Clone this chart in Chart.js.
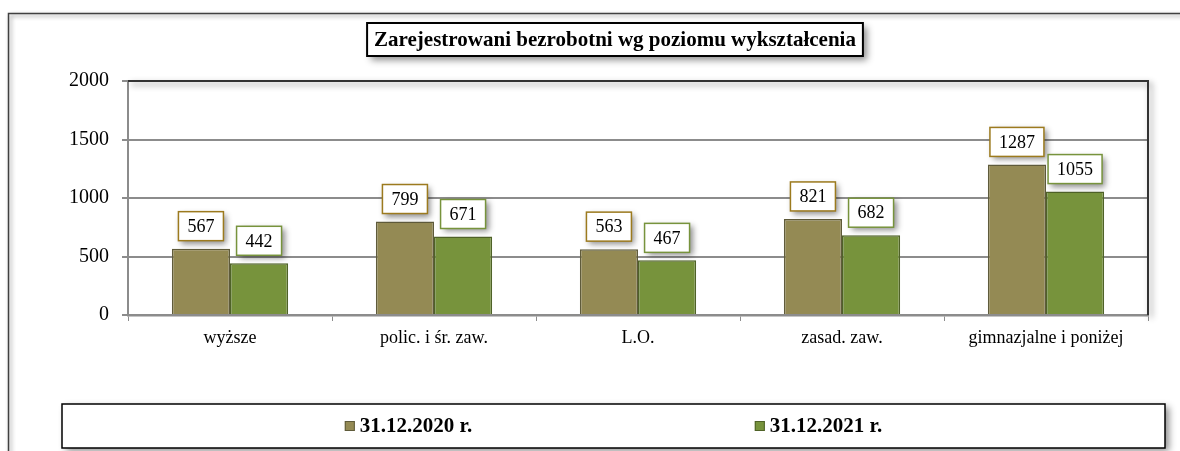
<!DOCTYPE html>
<html lang="pl">
<head>
<meta charset="utf-8">
<title>Zarejestrowani bezrobotni wg poziomu wykształcenia</title>
<script src="https://cdn.jsdelivr.net/npm/chart.js@4.4.1/dist/chart.umd.min.js"></script>
<style>
    html, body { margin: 0; padding: 0; background: #ffffff; }
    #wrap { width: 1180px; height: 451px; }
</style>
</head>
<body>
<div id="wrap"><canvas id="bezrobotniChart" width="1180" height="451"></canvas></div>
<script>
// Dane
const tytul = 'Zarejestrowani bezrobotni wg poziomu wykształcenia';
const kategorie = ['wyższe', 'polic. i śr. zaw.', 'L.O.', 'zasad. zaw.', 'gimnazjalne i poniżej'];
const serie = ['31.12.2020 r.', '31.12.2021 r.'];
const wartosci2020 = [567, 799, 563, 821, 1287];
const wartosci2021 = [442, 671, 467, 682, 1055];
const osY = { min: 0, max: 2000, krok: 500 };

// Kolory
const kolory = {
    braz: '#948A54',
    brazRamka: '#5F5B3B',
    brazEtykieta: '#9C7A1E',
    zielony: '#77933C',
    zielonyRamka: '#4F6228',
    zielonyEtykieta: '#77933C',
    siatka: '#8C8C8C',
    ramka: '#333333',
};

const czcionka = '"Liberation Serif", "Times New Roman", serif';

function cien(ctx, blur, dx, dy) {
    ctx.shadowColor = 'rgba(0,0,0,0.45)';
    ctx.shadowBlur = blur;
    ctx.shadowOffsetX = dx;
    ctx.shadowOffsetY = dy;
}

// Ramka zewnętrzna, tytuł, obramowanie obszaru wykresu
const ozdobyPlugin = {
    id: 'ozdoby',
    beforeDraw(chart) {
        const ctx = chart.ctx;
        ctx.save();
        cien(ctx, 4, 2, 2);
        ctx.strokeStyle = '#404040';
        ctx.lineWidth = 1.5;
        ctx.beginPath();
        ctx.moveTo(8.5, 460);
        ctx.lineTo(8.5, 13.5);
        ctx.lineTo(1190, 13.5);
        ctx.stroke();
        ctx.restore();
    },
    afterDraw(chart) {
        const ctx = chart.ctx;
        const a = chart.chartArea;

        // obramowanie góra / prawo
        ctx.save();
        cien(ctx, 6, 3, 3);
        ctx.strokeStyle = kolory.ramka;
        ctx.lineWidth = 2;
        ctx.beginPath();
        ctx.moveTo(a.left, a.top);
        ctx.lineTo(a.right, a.top);
        ctx.lineTo(a.right, a.bottom);
        ctx.stroke();
        ctx.restore();

        // tytuł w ramce
        ctx.save();
        ctx.font = 'bold 21px ' + czcionka;
        const w = ctx.measureText(tytul).width + 14;
        const cx = 615, top = 23, h = 33;
        cien(ctx, 7, 4, 4);
        ctx.fillStyle = '#ffffff';
        ctx.fillRect(cx - w / 2, top, w, h);
        ctx.restore();
        ctx.save();
        ctx.strokeStyle = '#000000';
        ctx.lineWidth = 2;
        ctx.strokeRect(cx - w / 2, top, w, h);
        ctx.fillStyle = '#000000';
        ctx.font = 'bold 21px ' + czcionka;
        ctx.textAlign = 'center';
        ctx.textBaseline = 'middle';
        ctx.fillText(tytul, cx, top + h / 2 + 1);
        ctx.restore();

        // legenda w ramce
        const lx = 62, ly = 404, lw = 1103, lh = 44;
        ctx.save();
        cien(ctx, 7, 4, 3);
        ctx.fillStyle = '#ffffff';
        ctx.fillRect(lx, ly, lw, lh);
        ctx.restore();
        ctx.save();
        ctx.strokeStyle = '#000000';
        ctx.lineWidth = 1.5;
        ctx.strokeRect(lx, ly, lw, lh);
        ctx.font = 'bold 21px ' + czcionka;
        ctx.textBaseline = 'middle';
        const srodek = lx + lw / 2;
        chart.data.datasets.forEach((ds, i) => {
            const tw = ctx.measureText(ds.label).width;
            const szer = 11 + 4 + tw;
            const c = srodek + (i === 0 ? -205 : 205);
            const x0 = c - szer / 2;
            const y0 = ly + lh / 2;
            ctx.fillStyle = ds.backgroundColor;
            ctx.fillRect(x0, y0 - 5, 10, 10);
            ctx.strokeStyle = ds.borderColor;
            ctx.lineWidth = 1;
            ctx.strokeRect(x0 + 0.5, y0 - 4.5, 9, 9);
            ctx.fillStyle = '#000000';
            ctx.fillText(ds.label, x0 + 15, y0 + 1);
        });
        ctx.restore();
    }
};

// Etykiety wartości w ramkach nad słupkami
const etykietyPlugin = {
    id: 'etykiety',
    afterDatasetsDraw(chart) {
        const ctx = chart.ctx;
        chart.data.datasets.forEach((ds, i) => {
            const meta = chart.getDatasetMeta(i);
            meta.data.forEach((bar, j) => {
                const tekst = String(ds.data[j]);
                ctx.save();
                ctx.font = '18px ' + czcionka;
                const w = ctx.measureText(tekst).width + 18;
                const h = 29;
                const x = bar.x - w / 2;
                const y = bar.y - 8 - h;
                cien(ctx, 6, 3, 3);
                ctx.fillStyle = '#ffffff';
                ctx.fillRect(x, y, w, h);
                ctx.restore();
                ctx.save();
                ctx.strokeStyle = i === 0 ? kolory.brazEtykieta : kolory.zielonyEtykieta;
                ctx.lineWidth = 1.5;
                ctx.strokeRect(x, y, w, h);
                ctx.fillStyle = '#000000';
                ctx.font = '18px ' + czcionka;
                ctx.textAlign = 'center';
                ctx.textBaseline = 'middle';
                ctx.fillText(tekst, bar.x, y + h / 2 + 1);
                ctx.restore();
            });
        });
    }
};

new Chart(document.getElementById('bezrobotniChart'), {
    type: 'bar',
    data: {
        labels: kategorie,
        datasets: [{
            label: serie[0],
            data: wartosci2020,
            backgroundColor: kolory.braz,
            borderColor: kolory.brazRamka,
            borderWidth: 1.5,
        }, {
            label: serie[1],
            data: wartosci2021,
            backgroundColor: kolory.zielony,
            borderColor: kolory.zielonyRamka,
            borderWidth: 1.5,
        }]
    },
    options: {
        responsive: false,
        animation: false,
        barPercentage: 1,
        categoryPercentage: 0.57,
        layout: {
            padding: { top: 81, right: 32, bottom: 0, left: 0 }
        },
        plugins: {
            legend: { display: false },
            title: { display: false },
            tooltip: { enabled: false }
        },
        scales: {
            x: {
                offset: true,
                afterFit: (scale) => { scale.height = 136; },
                grid: {
                    display: true,
                    drawOnChartArea: false,
                    drawTicks: true,
                    tickLength: 6,
                    color: kolory.siatka,
                    offset: true,
                },
                border: { display: true, color: kolory.siatka, width: 2.5 },
                ticks: {
                    color: '#000000',
                    padding: 6,
                    font: { family: czcionka, size: 18 }
                }
            },
            y: {
                min: osY.min,
                max: osY.max,
                afterFit: (scale) => { scale.width = 128; },
                grid: {
                    color: kolory.siatka,
                    lineWidth: 2,
                    tickLength: 6,
                },
                border: { display: true, color: kolory.siatka, width: 2 },
                ticks: {
                    stepSize: osY.krok,
                    color: '#000000',
                    padding: 13,
                    font: { family: czcionka, size: 20 },
                    callback: (value) => String(value)
                }
            }
        }
    },
    plugins: [ozdobyPlugin, etykietyPlugin]
});
</script>
</body>
</html>
